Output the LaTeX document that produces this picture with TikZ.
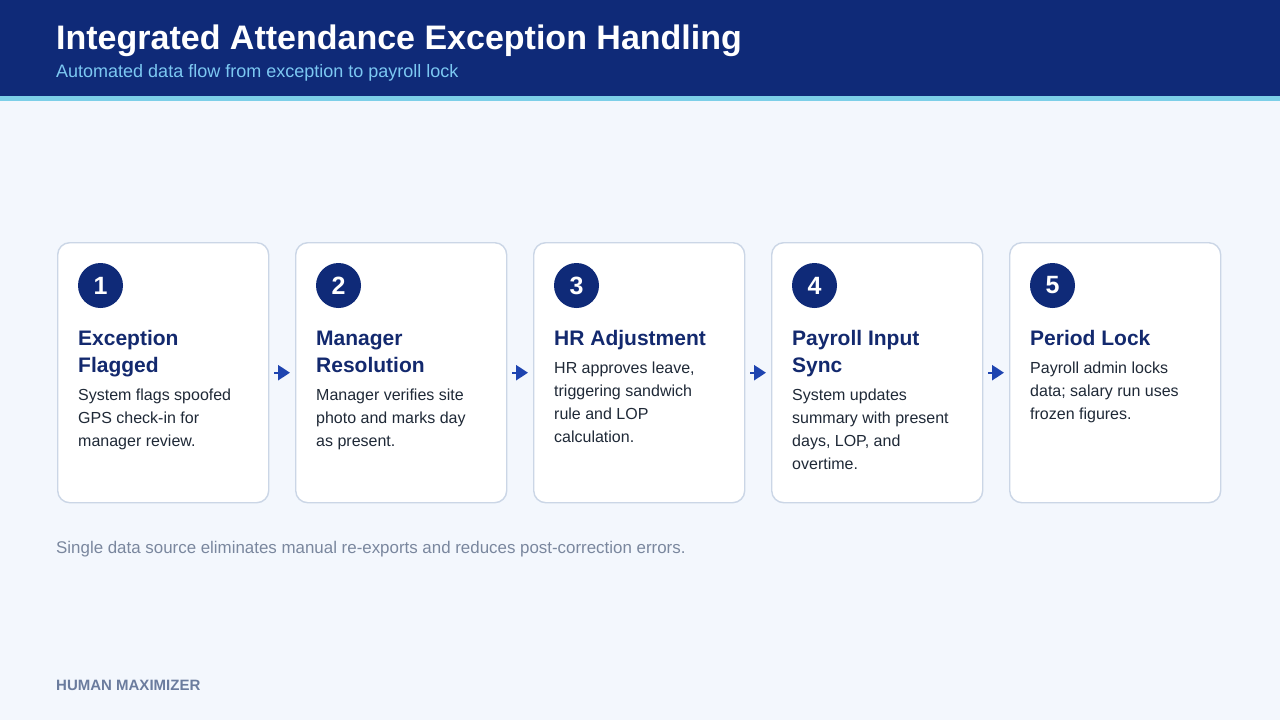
\documentclass[tikz,border=0pt]{standalone}
\usepackage{fontspec}
\setmainfont{Liberation Sans}
\usetikzlibrary{arrows.meta,positioning}
\definecolor{bgc}{HTML}{F3F7FD}
\definecolor{navy}{HTML}{0F2A78}
\definecolor{stripe}{HTML}{7CCFE8}
\definecolor{subc}{HTML}{7CC8F2}
\definecolor{cardline}{HTML}{CBD6E6}
\definecolor{ttl}{HTML}{13296E}
\definecolor{bodyc}{HTML}{1F2937}
\definecolor{notec}{HTML}{7A879E}
\definecolor{brandc}{HTML}{6B7C9E}
\definecolor{arrowc}{HTML}{1E44B0}
\tikzset{
  card/.style={draw=cardline, line width=1.4pt, fill=white, rounded corners=12pt,
    minimum width=211pt, minimum height=260pt, inner sep=0pt, anchor=north west},
  badge/.style={circle, fill=navy, minimum size=45pt, inner sep=0pt, text=white,
    font=\fontsize{25}{25}\selectfont\bfseries},
  ctitle/.style={anchor=base west, inner sep=0pt, align=left, text=ttl,
    font=\fontsize{21}{27}\selectfont\bfseries},
  cbody/.style={anchor=base west, inner sep=0pt, align=left, text=bodyc,
    font=\fontsize{16}{23}\selectfont},
  flow/.style={draw=arrowc, line width=2.4pt, -{Triangle[length=12pt,width=15pt]}}
}
\begin{document}
\begin{tikzpicture}[x=1pt,y=-1pt]
\useasboundingbox (0,0) rectangle (1280,720);
\fill[bgc] (0,0) rectangle (1280,720);
\fill[navy] (0,0) rectangle (1280,96);
\fill[stripe] (0,96) rectangle (1280,101);
\node[anchor=base west, inner sep=0pt, text=white, font=\fontsize{34}{34}\selectfont\bfseries] (title) at (56,49) {Integrated Attendance Exception Handling};
\node[anchor=base west, inner sep=0pt, text=subc, font=\fontsize{18}{18}\selectfont] (sub) at (56,77) {Automated data flow from exception to payroll lock};

% cards
\node[card] (c1) at (57,242) {};
\node[card] (c2) at (295,242) {};
\node[card] (c3) at (533,242) {};
\node[card] (c4) at (771,242) {};
\node[card] (c5) at (1009,242) {};

\node[badge] (b1) at (100.5,285.5) {1};
\node[badge] (b2) at (338.5,285.5) {2};
\node[badge] (b3) at (576.5,285.5) {3};
\node[badge] (b4) at (814.5,285.5) {4};
\node[badge] (b5) at (1052.5,285.5) {5};

% base anchor of a multi-line node sits on its last line
\node[ctitle] (t1) at (78,372) {Exception\\Flagged};
\node[ctitle] (t2) at (316,372) {Manager\\Resolution};
\node[ctitle] (t3) at (554,345) {HR Adjustment};
\node[ctitle] (t4) at (792,372) {Payroll Input\\Sync};
\node[ctitle] (t5) at (1030,345) {Period Lock};

\node[cbody] (d1) at (78,446) {System flags spoofed\\GPS check-in for\\manager review.};
\node[cbody] (d2) at (316,446) {Manager verifies site\\photo and marks day\\as present.};
\node[cbody] (d3) at (554,442) {HR approves leave,\\triggering sandwich\\rule and LOP\\calculation.};
\node[cbody] (d4) at (792,469) {System updates\\summary with present\\days, LOP, and\\overtime.};
\node[cbody] (d5) at (1030,419) {Payroll admin locks\\data; salary run uses\\frozen figures.};

\draw[flow] ([xshift=5pt]c1.east) -- ([xshift=-5pt]c2.west);
\draw[flow] ([xshift=5pt]c2.east) -- ([xshift=-5pt]c3.west);
\draw[flow] ([xshift=5pt]c3.east) -- ([xshift=-5pt]c4.west);
\draw[flow] ([xshift=5pt]c4.east) -- ([xshift=-5pt]c5.west);

\node[anchor=base west, inner sep=0pt, text=notec, font=\fontsize{16.9}{17}\selectfont] (note) at (56,553) {Single data source eliminates manual re-exports and reduces post-correction errors.};
\node[anchor=base west, inner sep=0pt, text=brandc, font=\fontsize{15}{15}\selectfont\bfseries] (brand) at (56,690) {HUMAN MAXIMIZER};
\end{tikzpicture}
\end{document}
